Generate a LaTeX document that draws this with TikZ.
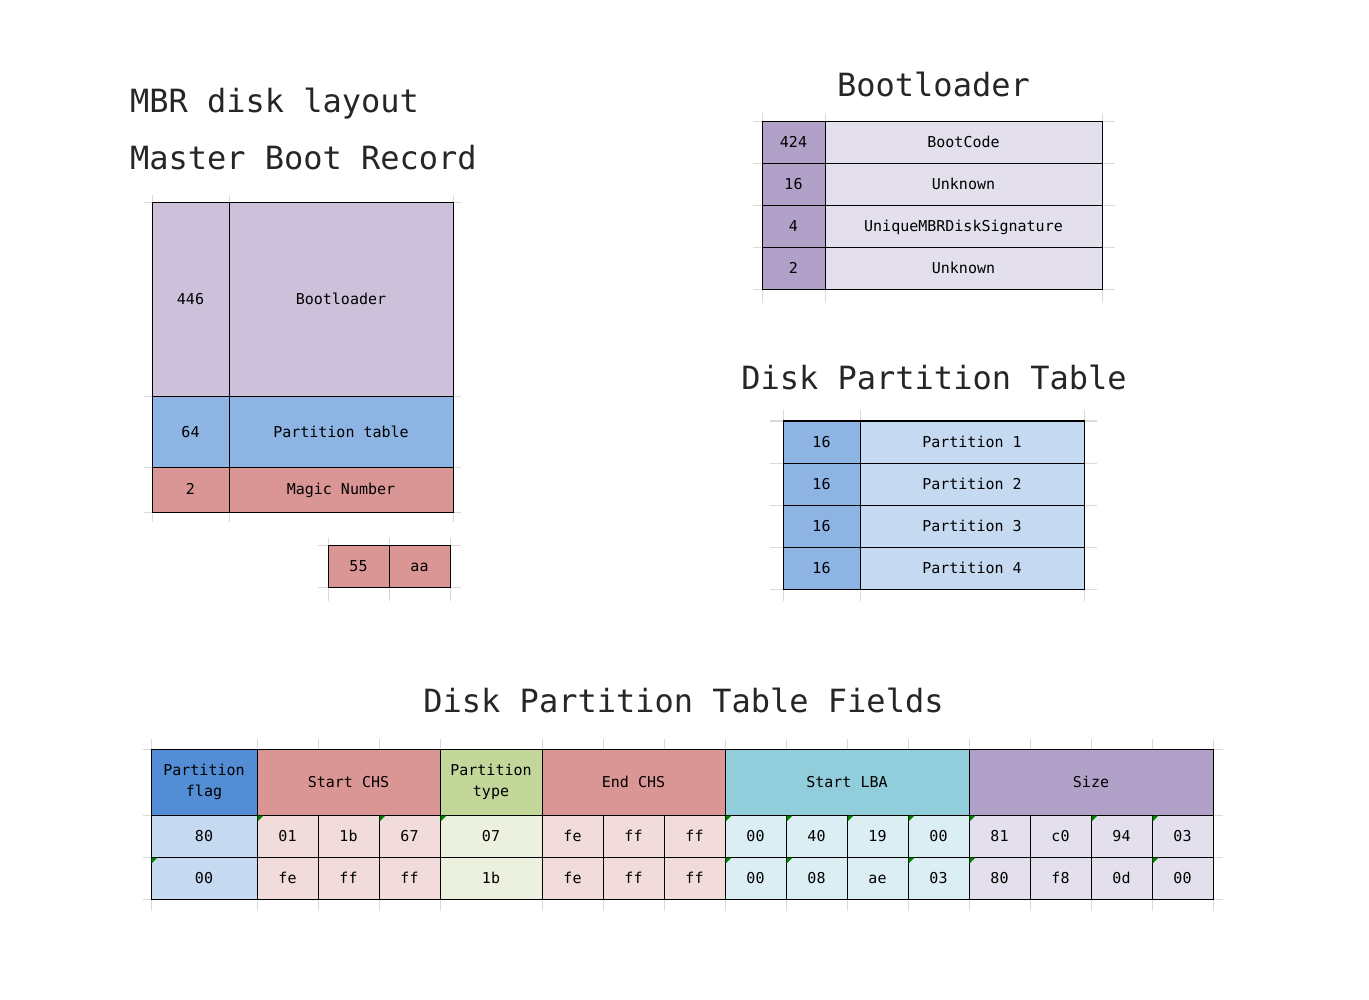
\documentclass[tikz,border=0pt]{standalone}
\usepackage{fontspec}
\setmainfont{DejaVu Sans Mono}
\definecolor{gridgray}{HTML}{D9D9D9}
\definecolor{titlegray}{HTML}{262626}
\definecolor{purpM}{HTML}{CCC0DA}
\definecolor{purpD}{HTML}{B1A0C7}
\definecolor{purpL}{HTML}{E4DFEC}
\definecolor{blueM}{HTML}{8DB4E2}
\definecolor{blueL}{HTML}{C5D9F1}
\definecolor{blueD}{HTML}{538DD5}
\definecolor{redM}{HTML}{DA9694}
\definecolor{redL}{HTML}{F2DCDB}
\definecolor{oliveM}{HTML}{C4D79B}
\definecolor{oliveL}{HTML}{EBF1DE}
\definecolor{aquaM}{HTML}{92CDDC}
\definecolor{aquaL}{HTML}{DAEEF3}
\definecolor{markgreen}{HTML}{008000}
\tikzset{
  cell/.style={draw=black, line width=1pt, inner sep=0pt, outer sep=0pt, text=black,
    font=\fontsize{15}{21}\selectfont},
  onel/.style={text height=10pt, text depth=0pt},
  stub/.style={draw=gridgray, line width=1pt},
  ttl/.style={anchor=base, inner sep=0pt, outer sep=0pt, text=titlegray,
    font=\fontsize{32}{38}\selectfont},
}
\newcommand\mycell[7]{\node[cell, onel, fill=#6, minimum width={(#4-#2)*1pt},
  minimum height={(#5-#3)*1pt}] (#1) at ({(#2+#4)/2},{(#3+#5)/2}) {#7};}
\newcommand\mycellm[7]{\node[cell, align=center, fill=#6, minimum width={(#4-#2)*1pt},
  minimum height={(#5-#3)*1pt}] (#1) at ({(#2+#4)/2},{(#3+#5)/2}) {#7};}
\newcommand\mymark[1]{\fill[markgreen] ([shift={(0.5,0.5)}]#1.north west) -- ++(6,0) -- ++(-6,6) -- cycle;}
\begin{document}
\begin{tikzpicture}[x=1pt,y=-1pt]
\useasboundingbox (0,0) rectangle (1369,1000);

% ---------- titles ----------
\node[ttl, anchor=base west] (t1) at (130,113) {MBR disk layout};
\node[ttl, anchor=base west] (t2) at (130,170) {Master Boot Record};
\node[ttl] (t3) at (933.5,97) {Bootloader};
\node[ttl] (t4) at (934,389) {Disk Partition Table};
\node[ttl] (t5) at (683.5,712) {Disk Partition Table Fields};

% ---------- grid stubs ----------
\foreach \y in {203,397,467,512} \draw[stub] (144,\y) -- (461,\y);
\foreach \x in {152,229,453} \draw[stub] (\x,195) -- (\x,522);
\foreach \y in {545,587} \draw[stub] (318,\y) -- (461,\y);
\foreach \x in {328,389,450} \draw[stub] (\x,538) -- (\x,601);
\foreach \y in {122,164,206,248,290} \draw[stub] (753,\y) -- (1115,\y);
\foreach \x in {762,825,1102} \draw[stub] (\x,113) -- (\x,303);
\foreach \y in {421,463,505,547,589} \draw[stub] (770,\y) -- (1097,\y);
\foreach \x in {783,860,1084} \draw[stub] (\x,410) -- (\x,601);
\foreach \y in {749,815,857,899} \draw[stub] (143,\y) -- (1223,\y);
\foreach \x in {151,257,318,379,440,542,603,664,725,786,847,908,969,1030,1091,1152,1213}
  \draw[stub] (\x,739) -- (\x,911);

% ---------- MBR layout ----------
\mycell{m446}{152}{203}{229}{397}{purpM}{446}
\mycell{mboot}{229}{203}{453}{397}{purpM}{Bootloader}
\mycell{m64}{152}{397}{229}{467}{blueM}{64}
\mycell{mpt}{229}{397}{453}{467}{blueM}{Partition table}
\mycell{m2}{152}{467}{229}{512}{redM}{2}
\mycell{mmagic}{229}{467}{453}{512}{redM}{Magic Number}
\mycell{m55}{328}{545}{389}{587}{redM}{55}
\mycell{maa}{389}{545}{450}{587}{redM}{aa}

% ---------- Bootloader ----------
\mycell{b424}{762}{122}{825}{164}{purpD}{424}
\mycell{bcode}{825}{122}{1102}{164}{purpL}{BootCode}
\mycell{b16}{762}{164}{825}{206}{purpD}{16}
\mycell{bunk1}{825}{164}{1102}{206}{purpL}{Unknown}
\mycell{b4}{762}{206}{825}{248}{purpD}{4}
\mycell{bsig}{825}{206}{1102}{248}{purpL}{UniqueMBRDiskSignature}
\mycell{b2}{762}{248}{825}{290}{purpD}{2}
\mycell{bunk2}{825}{248}{1102}{290}{purpL}{Unknown}

% ---------- Partition table ----------
\foreach \i/\ya/\yb in {1/421/463,2/463/505,3/505/547,4/547/589}{
  \mycell{ps\i}{783}{\ya}{860}{\yb}{blueM}{16}
  \mycell{pn\i}{860}{\ya}{1084}{\yb}{blueL}{Partition \i}
}

% ---------- Fields table ----------
\mycellm{hflag}{151}{749}{257}{815}{blueD}{Partition\\flag}
\mycell{hschs}{257}{749}{440}{815}{redM}{Start CHS}
\mycellm{htype}{440}{749}{542}{815}{oliveM}{Partition\\type}
\mycell{hechs}{542}{749}{725}{815}{redM}{End CHS}
\mycell{hlba}{725}{749}{969}{815}{aquaM}{Start LBA}
\mycell{hsize}{969}{749}{1213}{815}{purpD}{Size}

\foreach \i/\xa/\xb/\col/\va/\vb in {
  1/151/257/blueL/80/00,
  2/257/318/redL/01/fe, 3/318/379/redL/1b/ff, 4/379/440/redL/67/ff,
  5/440/542/oliveL/07/1b,
  6/542/603/redL/fe/fe, 7/603/664/redL/ff/ff, 8/664/725/redL/ff/ff,
  9/725/786/aquaL/00/00, 10/786/847/aquaL/40/08, 11/847/908/aquaL/19/ae, 12/908/969/aquaL/00/03,
  13/969/1030/purpL/81/80, 14/1030/1091/purpL/c0/f8, 15/1091/1152/purpL/94/0d, 16/1152/1213/purpL/03/00}{
  \mycell{ra\i}{\xa}{815}{\xb}{857}{\col}{\va}
  \mycell{rb\i}{\xa}{857}{\xb}{899}{\col}{\vb}
}

% green corner marks
\foreach \i in {2,4,5,9,10,11,12,13,15,16} {\mymark{ra\i}}
\foreach \i in {1,9,10,12,13,16} {\mymark{rb\i}}
\end{tikzpicture}
\end{document}
